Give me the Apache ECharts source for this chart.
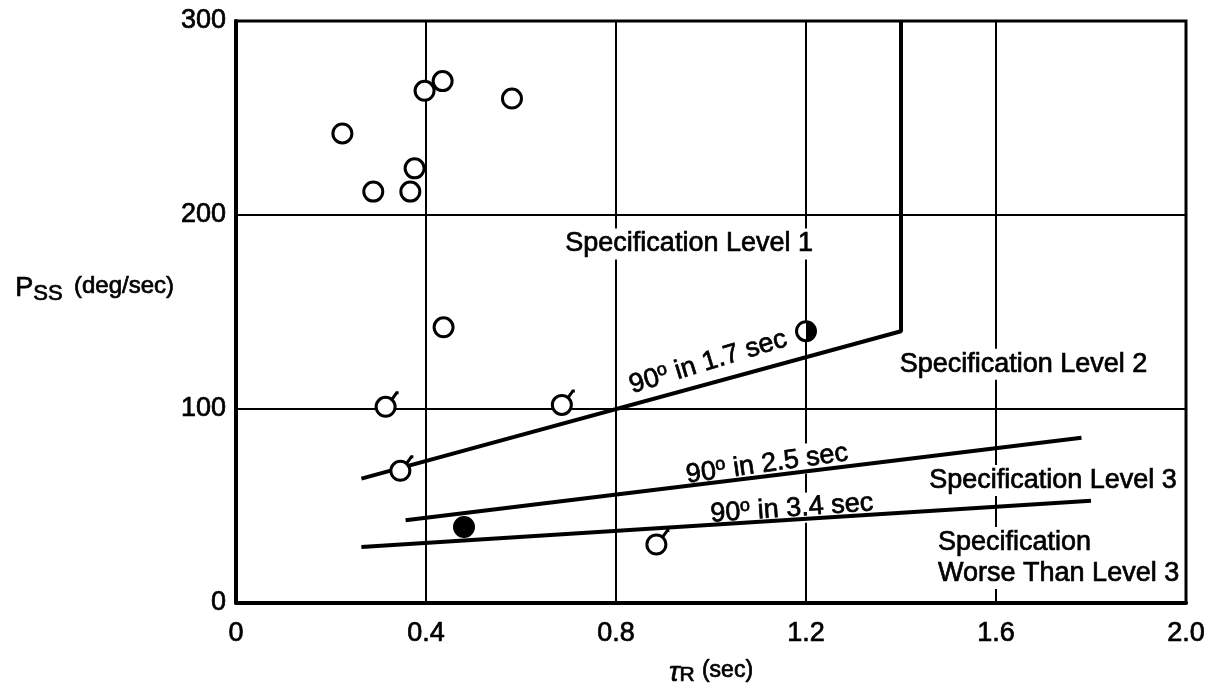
<!DOCTYPE html>
<html>
<head>
<meta charset="utf-8">
<title>Pss vs tauR</title>
<script src="https://cdn.jsdelivr.net/npm/echarts@6/dist/echarts.min.js"></script>
<style>
html, body { margin: 0; padding: 0; background: #fff; }
#chart { width: 1219px; height: 693px; }
</style>
</head>
<body>
<div id="chart"></div>
<script>
// tick labels
const xTicks = ['0', '0.4', '0.8', '1.2', '1.6', '2.0'];
const yTicks = ['0', '100', '200', '300'];

// test points [tauR (sec), Pss (deg/sec)]
const openPts = [[0.224, 242], [0.289, 212], [0.367, 212], [0.376, 224], [0.397, 264], [0.435, 269], [0.581, 260], [0.437, 142]];
const flaggedPts = [[0.315, 101], [0.686, 102], [0.346, 68], [0.885, 30]];
const filledPts = [[0.48, 39]];
const halfPts = [[1.2, 140]];

// boundary lines
const level1Line = [[0.264, 64], [1.4, 140], [1.4, 300]];
const sec25Line = [[0.357, 42.5], [1.78, 85]];
const sec34Line = [[0.264, 28.7], [1.8, 52.5]];

// annotations
const notes = [
    { text: 'Specification Level 1', at: [0.954, 185] },
    { text: 'Specification Level 2', at: [1.658, 123] },
    { text: 'Specification Level 3', at: [1.72, 63] },
    { text: 'Specification\nWorse Than Level 3', at: [1.478, 23] },
    { deg: '1.7', at: [0.994, 124] },
    { deg: '2.5', at: [1.118, 71.5] },
    { deg: '3.4', at: [1.17, 48.5] }
];
const degAngle = { '1.7': 17, '2.5': 8, '3.4': 4 };

const FONT = '"Liberation Sans", Arial, sans-serif';
// a thin outline thickens the glyphs a little, like the printed original
const INK = { color: '#000', fontFamily: FONT, textBorderColor: '#000', textBorderWidth: 0.7 };

function ink(extra) {
    return Object.assign({}, INK, extra);
}

function markRenderer(kind) {
    return function (params, api) {
        const p = api.coord([api.value(0), api.value(1)]);
        const r = 9.5;
        const kids = [{
            type: 'circle',
            shape: { cx: p[0], cy: p[1], r: r },
            style: { fill: kind === 'filled' ? '#000' : '#fff', stroke: '#000', lineWidth: 3 }
        }];
        if (kind === 'flag') {
            kids.push({
                type: 'polyline',
                shape: { points: [[p[0] + 6, p[1] - 7], [p[0] + 11, p[1] - 14], [p[0] + 13, p[1] - 14]] },
                style: { stroke: '#000', lineWidth: 3, fill: null }
            });
        }
        if (kind === 'half') {
            kids.push({
                type: 'sector',
                shape: { cx: p[0], cy: p[1], r: r, r0: 0, startAngle: -Math.PI / 2, endAngle: Math.PI / 2 },
                style: { fill: '#000' }
            });
        }
        return { type: 'group', children: kids };
    };
}

function markSeries(data, kind) {
    return {
        type: 'custom',
        data: data,
        renderItem: markRenderer(kind),
        z: 5,
        silent: true
    };
}

function lineSeries(data) {
    return {
        type: 'line',
        data: data,
        symbol: 'none',
        lineStyle: { color: '#000', width: 4 },
        z: 4,
        silent: true
    };
}

const textRich = {
    n: ink({ fontSize: 27, lineHeight: 30 }),
    o: ink({ fontSize: 18, lineHeight: 18, verticalAlign: 'top' })
};

const noteData = notes.map(function (d) {
    const item = { value: d.at, label: {} };
    if (d.deg) {
        item.label.formatter = '{n|90}{o|o}{n| in ' + d.deg + ' sec}';
        item.label.rotate = degAngle[d.deg];
    } else {
        item.label.formatter = d.text;
        if (d.text.indexOf('\n') >= 0) {
            item.label.align = 'left';
            item.label.padding = 0;
        }
    }
    return item;
});

const chart = echarts.init(document.getElementById('chart'));
chart.setOption({
    animation: false,
    backgroundColor: '#fff',
    grid: {
        left: 236, right: 33, top: 21, bottom: 90,
        show: true, borderColor: '#000', borderWidth: 3
    },
    xAxis: {
        type: 'value',
        min: 0, max: 2.0, interval: 0.4,
        name: '{tau|τ}{sub|R} {unit|(sec)}',
        nameLocation: 'middle',
        nameGap: 57,
        nameTextStyle: {
            rich: {
                tau: ink({ fontSize: 28, fontStyle: 'italic', lineHeight: 26, verticalAlign: 'top' }),
                sub: ink({ fontSize: 21, lineHeight: 22, verticalAlign: 'bottom' }),
                unit: ink({ fontSize: 23, lineHeight: 26, verticalAlign: 'top', padding: [0, 0, 0, 4] })
            }
        },
        axisLine: { lineStyle: { color: '#000', width: 4 } },
        axisTick: { show: false },
        splitLine: { lineStyle: { color: '#000', width: 2 } },
        axisLabel: ink({
            margin: 17,
            fontSize: 27,
            formatter: function (v) { return xTicks[Math.round(v / 0.4)]; }
        })
    },
    yAxis: {
        type: 'value',
        min: 0, max: 300, interval: 100,
        name: '{p|P}{sub|SS} {unit|(deg/sec)}',
        nameLocation: 'middle',
        nameRotate: 0,
        nameGap: 62,
        nameTextStyle: {
            padding: [0, 0, 44, 0],
            rich: {
                p: ink({ fontSize: 27, lineHeight: 30, verticalAlign: 'top' }),
                sub: ink({ fontSize: 22, lineHeight: 24, verticalAlign: 'bottom' }),
                unit: ink({ fontSize: 24, lineHeight: 28, verticalAlign: 'top', padding: [0, 0, 0, 8] })
            }
        },
        axisLine: { show: true, lineStyle: { color: '#000', width: 4 } },
        axisTick: { show: false },
        splitLine: { lineStyle: { color: '#000', width: 2 } },
        axisLabel: ink({
            margin: 10,
            fontSize: 27,
            formatter: function (v) { return yTicks[Math.round(v / 100)]; }
        })
    },
    series: [
        {
            type: 'scatter',
            data: noteData,
            symbolSize: 0,
            itemStyle: { opacity: 1 },
            z: 3,
            silent: true,
            label: ink({
                show: true,
                position: 'inside',
                fontSize: 27,
                lineHeight: 31,
                opacity: 1,
                backgroundColor: '#fff',
                padding: [0, 3],
                rich: textRich
            })
        },
        lineSeries(level1Line),
        lineSeries(sec25Line),
        lineSeries(sec34Line),
        markSeries(openPts, 'open'),
        markSeries(flaggedPts, 'flag'),
        markSeries(filledPts, 'filled'),
        markSeries(halfPts, 'half')
    ]
});
</script>
</body>
</html>
